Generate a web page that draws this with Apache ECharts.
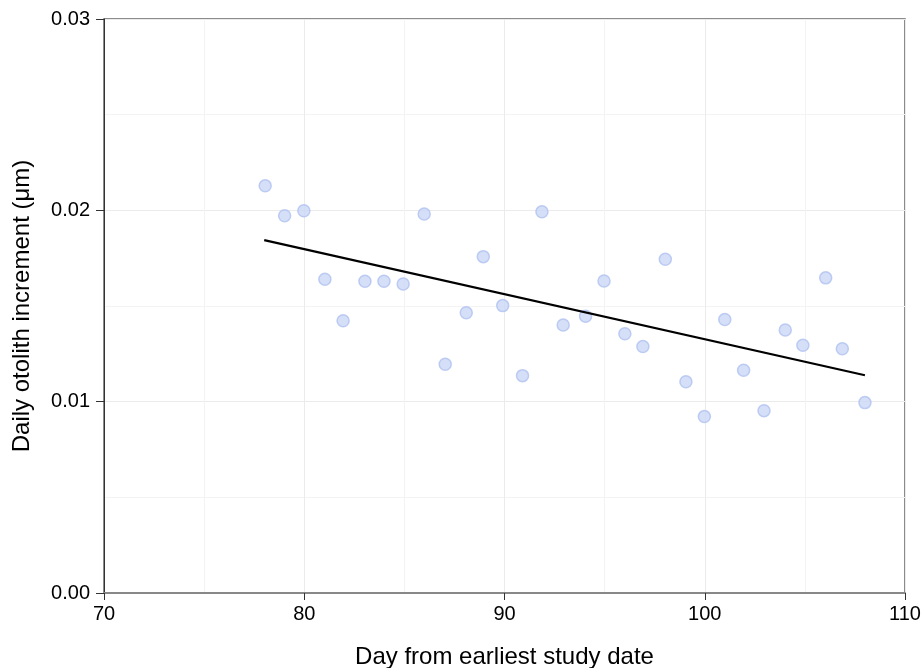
<!DOCTYPE html>
<html>
<head>
<meta charset="utf-8">
<script src="https://cdn.jsdelivr.net/npm/echarts@6/dist/echarts.min.js"></script>
<style>html,body{margin:0;padding:0;background:#fff}#c{width:924px;height:668px}</style>
</head>
<body>
<div id="c"></div>
<script>
var days = [78.05,79.02,79.98,81.03,81.94,83.03,83.98,84.94,85.99,87.04,88.09,88.94,89.91,90.9,91.87,92.93,94.05,94.97,96.01,96.91,98.03,99.06,99.98,101.0,101.94,102.96,104.02,104.9,106.04,106.87,108.0];
var increments = [0.02128,0.01972,0.01998,0.0164,0.01423,0.01629,0.01629,0.01615,0.01981,0.01196,0.01465,0.01758,0.01502,0.01136,0.01993,0.01401,0.01446,0.01631,0.01355,0.01288,0.01744,0.01104,0.00922,0.01429,0.01164,0.00953,0.01375,0.01295,0.01647,0.01277,0.00995];
var fitDays = [78, 108];
var fitValues = [0.01844, 0.01138];
var xTitle = 'Day from earliest study date';
var yTitle = 'Daily otolith increment (\u03bcm)';

var pts = days.map(function(d, i){ return [d, increments[i]]; });
var fit = fitDays.map(function(d, i){ return [d, fitValues[i]]; });
var font = 'Liberation Sans, Arial, sans-serif';
var chart = echarts.init(document.getElementById('c'), null, {renderer:'canvas'});
chart.setOption({
  animation: false,
  grid: {left:104, right:19, top:19, bottom:75, show:true, borderColor:'#666', borderWidth:1.5, containLabel:false, outerBoundsMode:'none'},
  xAxis: {
    type:'value', min:70, max:110, interval:10,
    name: xTitle, nameLocation:'middle', nameGap:52,
    nameTextStyle:{fontFamily:font, fontSize:24, color:'#000'},
    axisLine:{show:true, onZero:false, lineStyle:{color:'#888', width:2}},
    axisTick:{show:true, length:7, lineStyle:{color:'#333'}},
    axisLabel:{fontFamily:font, fontSize:20, color:'#000', margin:11},
    splitLine:{show:true, lineStyle:{color:'#ebebeb', width:1}},
    minorTick:{show:false, splitNumber:2},
    minorSplitLine:{show:true, lineStyle:{color:'#f3f3f3', width:1}}
  },
  yAxis: {
    type:'value', min:0, max:0.03, interval:0.01,
    name: yTitle, nameLocation:'middle', nameGap:70, nameRotate:90,
    nameTextStyle:{fontFamily:font, fontSize:24, color:'#000'},
    axisLine:{show:true, onZero:false, lineStyle:{color:'#333', width:1}},
    axisTick:{show:true, length:8, lineStyle:{color:'#333'}},
    axisLabel:{fontFamily:font, fontSize:20, color:'#000', margin:14, formatter:function(v){return v.toFixed(2);}},
    splitLine:{show:true, lineStyle:{color:'#ebebeb', width:1}},
    minorTick:{show:false, splitNumber:2},
    minorSplitLine:{show:true, lineStyle:{color:'#f3f3f3', width:1}}
  },
  series: [
    {type:'scatter', data:pts, symbol:'circle', symbolSize:12,
     itemStyle:{color:'#cbd7f6', borderColor:'#b0c2f0', borderWidth:1.5}, z:2},
    {type:'line', data:fit, showSymbol:false, symbol:'none',
     lineStyle:{color:'#000', width:2.2}, z:3}
  ]
});
</script>
</body>
</html>
